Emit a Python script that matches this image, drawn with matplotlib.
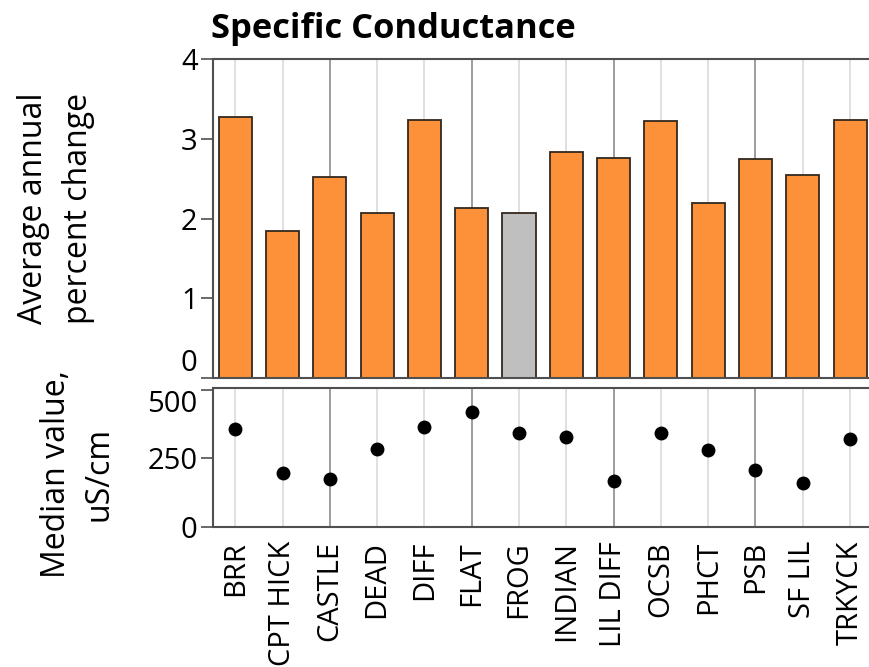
import matplotlib
matplotlib.use('Agg')
import matplotlib.pyplot as plt
import numpy as np

plt.rcParams['font.family'] = ['Open Sans', 'DejaVu Sans']

sites = ['BRR', 'CPT HICK', 'CASTLE', 'DEAD', 'DIFF', 'FLAT', 'FROG', 'INDIAN',
         'LIL DIFF', 'OCSB', 'PHCT', 'PSB', 'SF LIL', 'TRKYCK']
pct_change = [3.27, 1.84, 2.52, 2.07, 3.23, 2.13, 2.07, 2.83,
              2.76, 3.22, 2.20, 2.75, 2.54, 3.24]
median_val = [358, 196, 174, 286, 364, 421, 344, 328,
              167, 343, 282, 207, 162, 322]
gray_site = 'FROG'
dark_grid = ['CASTLE', 'FLAT', 'LIL DIFF', 'PSB']

W, H = 869, 667
fig = plt.figure(figsize=(W / 100, H / 100), dpi=100)

def px_axes(l, t, r, b):
    return fig.add_axes([l / W, (H - b) / H, (r - l) / W, (b - t) / H])

def px_text(x, y, s, **kw):
    return fig.text(x / W, (H - y) / H, s, **kw)

ax1 = px_axes(213, 59, 869, 378)
ax2 = px_axes(213, 388, 869, 527)

x = np.arange(len(sites))
spine_c = '#505050'

for ax in (ax1, ax2):
    for i, s in enumerate(sites):
        c = '#8c8c8c' if s in dark_grid else '#dadada'
        ax.axvline(i, color=c, lw=1.2, zorder=0)
    ax.set_xlim(-0.47, 13.4)
    ax.spines['right'].set_visible(False)
    for sp in ('left', 'top', 'bottom'):
        ax.spines[sp].set_color(spine_c)
        ax.spines[sp].set_linewidth(1.5)
    ax.tick_params(axis='y', length=9, width=1.2, color=spine_c,
                   labelsize=21, pad=2)
    ax.tick_params(axis='x', length=0)

colors = ['#bfbfbf' if s == gray_site else '#fd9139' for s in sites]
ax1.bar(x, pct_change, width=0.7, color=colors, edgecolor='#33281f',
        linewidth=1.3, zorder=2)
ax1.set_ylim(0, 4)
ax1.set_yticks([0, 1, 2, 3, 4])
ax1.set_xticks([])

ax2.scatter(x, median_val, s=100, color='black', linewidths=0, zorder=3)
ax2.set_ylim(0, 507)
ax2.set_yticks([0, 250, 500])
ax2.set_xticks(x)
ax2.set_xticklabels(sites, rotation=90, fontsize=21)
ax2.tick_params(axis='x', pad=10)

# keep the "0" and "500" labels from running into each other
ax1.yaxis.get_major_ticks()[0].label1.set_va('bottom')
ax2.yaxis.get_major_ticks()[-1].label1.set_va('top')

px_text(211, 38, 'Specific Conductance', fontsize=24.8, fontweight='bold',
        ha='left', va='baseline')
px_text(56, 208, 'Average annual\npercent change', fontsize=23, rotation=90,
        ha='center', va='center', multialignment='center', linespacing=1.5)
px_text(78, 474, 'Median value,\nuS/cm', fontsize=23, rotation=90,
        ha='center', va='center', multialignment='center', linespacing=1.4)

fig.savefig('out.png', dpi=100)
